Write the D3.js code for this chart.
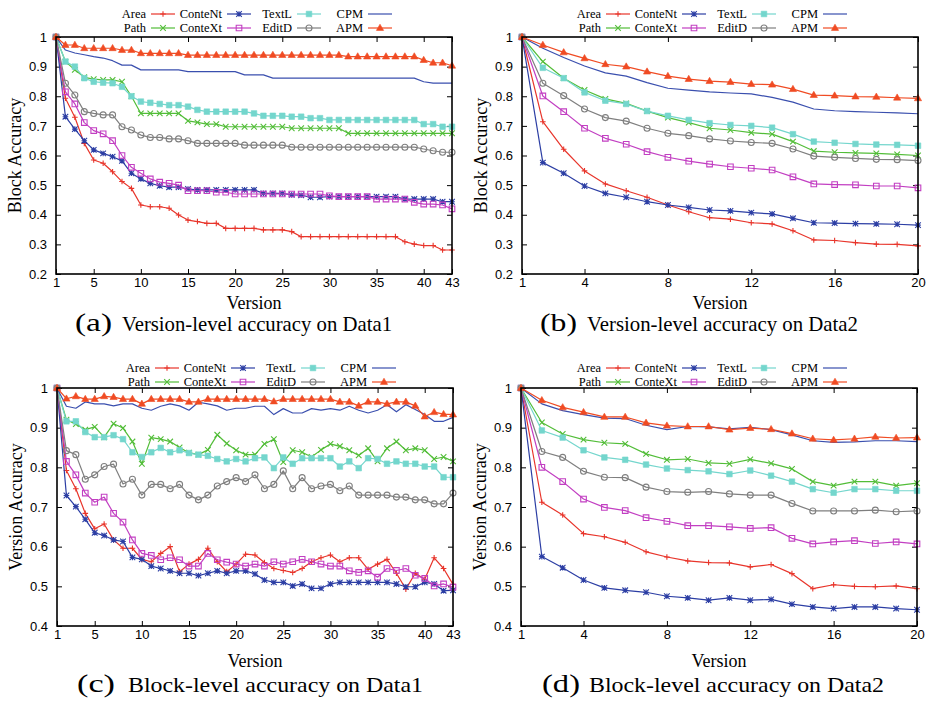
<!DOCTYPE html>
<html>
<head>
<meta charset="utf-8">
<style>
  body { margin: 0; background: #fff; }
  svg { display: block; }
</style>
</head>
<body>
<script src="https://cdn.jsdelivr.net/npm/d3@7"></script>
<script>
// ---- data (one value per version) ----
var seriesNames = ["Area", "Path", "ConteNt", "ConteXt", "TextL", "EditD", "CPM", "APM"];

// (a) version-level accuracy, Data1 (43 versions)
var aArea = [1, 0.793, 0.729, 0.641, 0.585, 0.574, 0.545, 0.512, 0.489, 0.433, 0.427, 0.427, 0.422, 0.399, 0.382, 0.377, 0.371, 0.371, 0.354, 0.354, 0.354, 0.354, 0.349, 0.349, 0.349, 0.343, 0.326, 0.326, 0.326, 0.326, 0.326, 0.326, 0.326, 0.326, 0.326, 0.326, 0.326, 0.309, 0.301, 0.296, 0.296, 0.281, 0.281];
var aPath = [1, 0.917, 0.889, 0.864, 0.858, 0.855, 0.855, 0.849, 0.8, 0.742, 0.742, 0.742, 0.742, 0.742, 0.717, 0.712, 0.706, 0.706, 0.697, 0.697, 0.697, 0.697, 0.697, 0.697, 0.697, 0.692, 0.692, 0.692, 0.692, 0.692, 0.692, 0.675, 0.675, 0.675, 0.675, 0.675, 0.675, 0.675, 0.675, 0.675, 0.675, 0.675, 0.675];
var aConteNt = [1, 0.731, 0.689, 0.65, 0.619, 0.607, 0.596, 0.582, 0.54, 0.521, 0.506, 0.498, 0.493, 0.493, 0.487, 0.484, 0.484, 0.484, 0.484, 0.484, 0.484, 0.484, 0.472, 0.472, 0.472, 0.467, 0.466, 0.459, 0.459, 0.461, 0.461, 0.461, 0.461, 0.461, 0.461, 0.461, 0.461, 0.453, 0.453, 0.453, 0.453, 0.444, 0.444];
var aConteXt = [1, 0.815, 0.774, 0.711, 0.684, 0.673, 0.65, 0.6, 0.56, 0.54, 0.521, 0.51, 0.506, 0.5, 0.481, 0.481, 0.481, 0.476, 0.476, 0.47, 0.47, 0.47, 0.47, 0.47, 0.47, 0.47, 0.47, 0.47, 0.47, 0.464, 0.461, 0.461, 0.461, 0.461, 0.453, 0.453, 0.453, 0.453, 0.442, 0.436, 0.436, 0.433, 0.42];
var aTextL = [1, 0.917, 0.9, 0.861, 0.849, 0.846, 0.844, 0.832, 0.8, 0.782, 0.778, 0.774, 0.77, 0.77, 0.765, 0.754, 0.748, 0.748, 0.748, 0.748, 0.748, 0.742, 0.734, 0.734, 0.734, 0.731, 0.731, 0.726, 0.726, 0.72, 0.72, 0.72, 0.72, 0.72, 0.72, 0.72, 0.72, 0.72, 0.72, 0.706, 0.706, 0.697, 0.697];
var aEditD = [1, 0.844, 0.804, 0.748, 0.742, 0.737, 0.737, 0.697, 0.686, 0.669, 0.661, 0.661, 0.656, 0.656, 0.65, 0.641, 0.641, 0.641, 0.641, 0.641, 0.635, 0.635, 0.635, 0.635, 0.635, 0.628, 0.628, 0.628, 0.628, 0.628, 0.628, 0.628, 0.628, 0.628, 0.628, 0.628, 0.628, 0.628, 0.628, 0.622, 0.616, 0.611, 0.611];
var aCPM = [1, 0.956, 0.946, 0.94, 0.934, 0.929, 0.92, 0.905, 0.905, 0.889, 0.889, 0.889, 0.889, 0.889, 0.883, 0.883, 0.883, 0.883, 0.883, 0.883, 0.872, 0.872, 0.872, 0.861, 0.861, 0.861, 0.861, 0.861, 0.861, 0.861, 0.861, 0.861, 0.861, 0.861, 0.861, 0.861, 0.861, 0.861, 0.861, 0.849, 0.844, 0.844, 0.844];
var aAPM = [1, 0.973, 0.973, 0.962, 0.962, 0.962, 0.962, 0.956, 0.956, 0.945, 0.945, 0.945, 0.945, 0.945, 0.939, 0.939, 0.939, 0.939, 0.939, 0.939, 0.939, 0.939, 0.939, 0.939, 0.939, 0.939, 0.939, 0.939, 0.939, 0.939, 0.939, 0.934, 0.934, 0.934, 0.934, 0.934, 0.934, 0.934, 0.934, 0.922, 0.913, 0.913, 0.903];

// (b) version-level accuracy, Data2 (20 versions)
var bArea = [1, 0.714, 0.621, 0.548, 0.504, 0.481, 0.459, 0.433, 0.41, 0.39, 0.385, 0.373, 0.369, 0.346, 0.315, 0.313, 0.306, 0.301, 0.3, 0.295];
var bPath = [1, 0.917, 0.861, 0.821, 0.791, 0.776, 0.75, 0.728, 0.711, 0.692, 0.686, 0.677, 0.672, 0.647, 0.615, 0.611, 0.609, 0.607, 0.604, 0.6];
var bConteNt = [1, 0.576, 0.54, 0.497, 0.472, 0.459, 0.444, 0.433, 0.425, 0.416, 0.413, 0.407, 0.403, 0.388, 0.373, 0.372, 0.37, 0.369, 0.368, 0.365];
var bConteXt = [1, 0.801, 0.748, 0.692, 0.658, 0.638, 0.613, 0.594, 0.581, 0.571, 0.562, 0.557, 0.551, 0.528, 0.504, 0.502, 0.501, 0.497, 0.497, 0.491];
var bTextL = [1, 0.896, 0.861, 0.813, 0.785, 0.774, 0.75, 0.734, 0.72, 0.709, 0.703, 0.7, 0.694, 0.672, 0.647, 0.643, 0.639, 0.637, 0.636, 0.633];
var bEditD = [1, 0.844, 0.802, 0.757, 0.728, 0.716, 0.692, 0.675, 0.667, 0.656, 0.649, 0.644, 0.641, 0.622, 0.598, 0.594, 0.59, 0.587, 0.586, 0.583];
var bCPM = [1, 0.962, 0.931, 0.902, 0.879, 0.868, 0.846, 0.827, 0.821, 0.815, 0.811, 0.808, 0.796, 0.78, 0.757, 0.751, 0.748, 0.746, 0.744, 0.741];
var bAPM = [1, 0.973, 0.948, 0.928, 0.908, 0.9, 0.883, 0.868, 0.858, 0.851, 0.848, 0.841, 0.839, 0.824, 0.804, 0.802, 0.799, 0.798, 0.795, 0.793];

// (c) block-level accuracy, Data1 (43 versions)
var cArea = [1, 0.792, 0.746, 0.684, 0.645, 0.657, 0.617, 0.596, 0.596, 0.568, 0.562, 0.583, 0.6, 0.537, 0.556, 0.568, 0.596, 0.562, 0.537, 0.556, 0.581, 0.579, 0.56, 0.545, 0.54, 0.535, 0.545, 0.562, 0.572, 0.579, 0.562, 0.572, 0.572, 0.543, 0.556, 0.568, 0.533, 0.493, 0.533, 0.518, 0.572, 0.545, 0.505];
var cPath = [1, 0.92, 0.909, 0.895, 0.902, 0.876, 0.91, 0.899, 0.865, 0.809, 0.875, 0.871, 0.865, 0.85, 0.837, 0.832, 0.844, 0.882, 0.86, 0.843, 0.832, 0.832, 0.859, 0.871, 0.813, 0.843, 0.838, 0.826, 0.844, 0.859, 0.853, 0.843, 0.83, 0.848, 0.815, 0.848, 0.865, 0.843, 0.848, 0.843, 0.821, 0.826, 0.815];
var cConteNt = [1, 0.729, 0.701, 0.669, 0.635, 0.628, 0.617, 0.613, 0.573, 0.568, 0.551, 0.545, 0.539, 0.533, 0.533, 0.527, 0.533, 0.539, 0.533, 0.539, 0.539, 0.531, 0.516, 0.51, 0.51, 0.501, 0.506, 0.495, 0.495, 0.506, 0.51, 0.51, 0.51, 0.51, 0.51, 0.51, 0.506, 0.499, 0.499, 0.51, 0.506, 0.489, 0.49];
var cConteXt = [1, 0.815, 0.781, 0.735, 0.712, 0.725, 0.684, 0.662, 0.617, 0.583, 0.578, 0.567, 0.572, 0.567, 0.551, 0.551, 0.583, 0.567, 0.561, 0.556, 0.551, 0.556, 0.551, 0.562, 0.556, 0.562, 0.568, 0.562, 0.556, 0.551, 0.551, 0.539, 0.535, 0.539, 0.523, 0.545, 0.54, 0.545, 0.528, 0.52, 0.501, 0.506, 0.498];
var cTextL = [1, 0.916, 0.916, 0.889, 0.876, 0.876, 0.881, 0.871, 0.838, 0.826, 0.838, 0.849, 0.838, 0.843, 0.836, 0.832, 0.829, 0.821, 0.815, 0.821, 0.815, 0.823, 0.825, 0.798, 0.825, 0.809, 0.823, 0.823, 0.823, 0.823, 0.802, 0.815, 0.798, 0.823, 0.821, 0.809, 0.815, 0.809, 0.809, 0.802, 0.802, 0.775, 0.775];
var cEditD = [1, 0.842, 0.832, 0.77, 0.781, 0.802, 0.808, 0.758, 0.77, 0.73, 0.757, 0.757, 0.746, 0.757, 0.73, 0.718, 0.73, 0.753, 0.764, 0.774, 0.764, 0.781, 0.746, 0.757, 0.791, 0.746, 0.774, 0.746, 0.753, 0.757, 0.741, 0.753, 0.73, 0.73, 0.73, 0.73, 0.725, 0.725, 0.718, 0.718, 0.708, 0.708, 0.735];
var cCPM = [1, 0.954, 0.949, 0.965, 0.96, 0.96, 0.955, 0.96, 0.96, 0.949, 0.944, 0.954, 0.96, 0.955, 0.944, 0.964, 0.96, 0.955, 0.944, 0.949, 0.949, 0.954, 0.954, 0.933, 0.948, 0.937, 0.937, 0.948, 0.944, 0.948, 0.944, 0.954, 0.944, 0.937, 0.944, 0.958, 0.94, 0.958, 0.946, 0.933, 0.916, 0.916, 0.926];
var cAPM = [1, 0.973, 0.979, 0.972, 0.972, 0.979, 0.977, 0.972, 0.972, 0.96, 0.972, 0.972, 0.972, 0.972, 0.965, 0.965, 0.972, 0.972, 0.972, 0.972, 0.972, 0.972, 0.972, 0.966, 0.972, 0.972, 0.972, 0.972, 0.972, 0.972, 0.965, 0.965, 0.955, 0.965, 0.965, 0.96, 0.965, 0.965, 0.955, 0.928, 0.939, 0.934, 0.933];

// (d) block-level accuracy, Data2 (20 versions)
var dArea = [1, 0.712, 0.68, 0.633, 0.625, 0.611, 0.587, 0.574, 0.564, 0.56, 0.559, 0.549, 0.555, 0.532, 0.494, 0.504, 0.5, 0.499, 0.501, 0.494];
var dPath = [1, 0.913, 0.884, 0.87, 0.862, 0.859, 0.834, 0.819, 0.821, 0.811, 0.809, 0.82, 0.81, 0.796, 0.764, 0.754, 0.764, 0.764, 0.754, 0.76];
var dConteNt = [1, 0.575, 0.547, 0.516, 0.496, 0.49, 0.485, 0.475, 0.471, 0.465, 0.471, 0.465, 0.467, 0.455, 0.448, 0.444, 0.448, 0.448, 0.444, 0.441];
var dConteXt = [1, 0.8, 0.764, 0.72, 0.699, 0.691, 0.673, 0.664, 0.653, 0.653, 0.65, 0.646, 0.648, 0.621, 0.607, 0.612, 0.615, 0.608, 0.612, 0.607];
var dTextL = [1, 0.893, 0.875, 0.843, 0.825, 0.819, 0.807, 0.797, 0.793, 0.79, 0.783, 0.792, 0.779, 0.764, 0.745, 0.736, 0.745, 0.745, 0.741, 0.741];
var dEditD = [1, 0.84, 0.825, 0.79, 0.775, 0.774, 0.75, 0.739, 0.737, 0.739, 0.733, 0.73, 0.73, 0.709, 0.69, 0.69, 0.69, 0.692, 0.688, 0.69];
var dCPM = [1, 0.96, 0.943, 0.933, 0.924, 0.923, 0.906, 0.895, 0.903, 0.902, 0.897, 0.901, 0.895, 0.882, 0.867, 0.863, 0.864, 0.867, 0.867, 0.865];
var dAPM = [1, 0.969, 0.951, 0.939, 0.927, 0.927, 0.912, 0.905, 0.903, 0.903, 0.895, 0.899, 0.896, 0.885, 0.872, 0.869, 0.872, 0.877, 0.874, 0.875];

// tick labels
var xTicks43 = [1, 5, 10, 15, 20, 25, 30, 35, 40, 43];
var xTicks20 = [1, 4, 8, 12, 16, 20];
var yTicksTop = [0.2, 0.3, 0.4, 0.5, 0.6, 0.7, 0.8, 0.9, 1];
var yTicksBottom = [0.4, 0.5, 0.6, 0.7, 0.8, 0.9, 1];

// ---- styles ----
var styles = {
    Area:    { color: '#e8352b', marker: 'plus' },
    Path:    { color: '#52bd38', marker: 'cross' },
    ConteNt: { color: '#2c3ea4', marker: 'star' },
    ConteXt: { color: '#c23fc2', marker: 'square' },
    TextL:   { color: '#74d6cd', marker: 'fsquare' },
    EditD:   { color: '#7f7f7f', marker: 'circle' },
    CPM:     { color: '#3a4fae', marker: null },
    APM:     { color: '#f04b23', marker: 'triangle' }
};
var serif = '"Liberation Serif", "Times New Roman", serif';
var sans = '"Liberation Sans", Arial, sans-serif';

var panels = [
    { left: 56, right: 452, top: 37, bottom: 274, yMin: 0.2, yTicks: yTicksTop, xTicks: xTicks43,
      data: [aArea, aPath, aConteNt, aConteXt, aTextL, aEditD, aCPM, aAPM],
      yTitle: 'Block Accuracy', tag: '(a)', caption: 'Version-level accuracy on Data1',
      legendX: 146, legendY: 14, labelY: 309,
      cap: { y: 331, tagX: 75, tagW: 37, textX: 122, textW: 270, size: 21 } },
    { left: 522, right: 918, top: 37, bottom: 274, yMin: 0.2, yTicks: yTicksTop, xTicks: xTicks20,
      data: [bArea, bPath, bConteNt, bConteXt, bTextL, bEditD, bCPM, bAPM],
      yTitle: 'Block Accuracy', tag: '(b)', caption: 'Version-level accuracy on Data2',
      legendX: 601, legendY: 14, labelY: 309,
      cap: { y: 331, tagX: 540, tagW: 37, textX: 587, textW: 271, size: 21 } },
    { left: 57, right: 453, top: 388, bottom: 626, yMin: 0.4, yTicks: yTicksBottom, xTicks: xTicks43,
      data: [cArea, cPath, cConteNt, cConteXt, cTextL, cEditD, cCPM, cAPM],
      yTitle: 'Version Accuracy', tag: '(c)', caption: 'Block-level accuracy on Data1',
      legendX: 150, legendY: 368, labelY: 667,
      cap: { y: 692, tagX: 77, tagW: 38, textX: 128, textW: 295, size: 22 } },
    { left: 521, right: 917, top: 388, bottom: 626, yMin: 0.4, yTicks: yTicksBottom, xTicks: xTicks20,
      data: [dArea, dPath, dConteNt, dConteXt, dTextL, dEditD, dCPM, dAPM],
      yTitle: 'Version Accuracy', tag: '(d)', caption: 'Block-level accuracy on Data2',
      legendX: 601, legendY: 368, labelY: 667,
      cap: { y: 692, tagX: 542, tagW: 38, textX: 589, textW: 295, size: 22 } }
];

var svg = d3.select('body').append('svg')
    .attr('width', 932)
    .attr('height', 702)
    .style('background', '#fff');

function markerPath(type) {
    var s = 2.8;
    switch (type) {
        case 'plus': return 'M' + (-s) + ',0H' + s + 'M0,' + (-s) + 'V' + s;
        case 'cross': return 'M' + (-s) + ',' + (-s) + 'L' + s + ',' + s + 'M' + (-s) + ',' + s + 'L' + s + ',' + (-s);
        case 'star': return 'M' + (-s) + ',0H' + s + 'M0,' + (-s) + 'V' + s +
            'M' + (-s) + ',' + (-s) + 'L' + s + ',' + s + 'M' + (-s) + ',' + s + 'L' + s + ',' + (-s);
        case 'square':
        case 'fsquare': return 'M-2.8,-2.8H2.8V2.8H-2.8Z';
        case 'circle': return 'M3,0A3,3 0 1,1 -3,0A3,3 0 1,1 3,0Z';
        case 'triangle': return 'M0,-3.8L3.6,2.4H-3.6Z';
    }
    return '';
}
function styleMarker(sel, st) {
    var filled = st.marker === 'fsquare' || st.marker === 'triangle';
    sel.attr('d', markerPath(st.marker))
        .attr('fill', filled ? st.color : 'none')
        .attr('stroke', st.color)
        .attr('stroke-width', filled ? 0.6 : 1.1);
}

panels.forEach(function (p) {
    var n = p.data[0].length;
    var x = d3.scaleLinear().domain([1, n]).range([p.left, p.right]);
    var y = d3.scaleLinear().domain([p.yMin, 1]).range([p.bottom, p.top]);
    var fmt = function (d) { return d === 1 ? '1' : d3.format('.1f')(d); };

    // axes with inward ticks on all four sides
    var gl = svg.append('g').attr('transform', 'translate(' + p.left + ',0)')
        .call(d3.axisLeft(y).tickValues(p.yTicks).tickSize(-5).tickPadding(9).tickFormat(fmt));
    var gr = svg.append('g').attr('transform', 'translate(' + p.right + ',0)')
        .call(d3.axisRight(y).tickValues(p.yTicks).tickSize(-5).tickFormat(''));
    var gb = svg.append('g').attr('transform', 'translate(0,' + p.bottom + ')')
        .call(d3.axisBottom(x).tickValues(p.xTicks).tickSize(-5).tickPadding(4).tickFormat(d3.format('d')));
    var gt = svg.append('g').attr('transform', 'translate(0,' + p.top + ')')
        .call(d3.axisTop(x).tickValues(p.xTicks).tickSize(-5).tickFormat(''));
    [gl, gr, gb, gt].forEach(function (g) {
        g.select('.domain').remove();
        g.selectAll('.tick line').attr('stroke', '#000').attr('stroke-width', 1);
        g.selectAll('.tick text').attr('fill', '#000')
            .style('font-family', sans).style('font-size', '13px');
    });

    // series
    var line = d3.line()
        .x(function (d, i) { return x(i + 1); })
        .y(function (d) { return y(d); });
    seriesNames.forEach(function (name, k) {
        var st = styles[name];
        var vals = p.data[k];
        svg.append('path')
            .datum(vals)
            .attr('d', line)
            .attr('fill', 'none')
            .attr('stroke', st.color)
            .attr('stroke-width', 1.2)
            .attr('stroke-linejoin', 'round');
        if (st.marker) {
            svg.append('g').selectAll('path')
                .data(vals)
                .enter()
                .append('path')
                .attr('transform', function (d, i) { return 'translate(' + x(i + 1) + ',' + y(d) + ')'; })
                .call(styleMarker, st);
        }
    });

    // frame
    svg.append('rect')
        .attr('x', p.left).attr('y', p.top)
        .attr('width', p.right - p.left).attr('height', p.bottom - p.top)
        .attr('fill', 'none').attr('stroke', '#000').attr('stroke-width', 1.6);

    // legend: 4 columns x 2 rows, label then sample
    var colEnds = [0, 76, 146, 217];
    seriesNames.forEach(function (name, k) {
        var st = styles[name];
        var col = Math.floor(k / 2), row = k % 2;
        var lx = p.legendX + colEnds[col];
        var ly = p.legendY + row * 14;
        svg.append('text')
            .attr('x', lx).attr('y', ly + 4.2)
            .attr('text-anchor', 'end')
            .style('font-family', serif).style('font-size', '12.5px')
            .text(name);
        svg.append('line')
            .attr('x1', lx + 5).attr('x2', lx + 29)
            .attr('y1', ly).attr('y2', ly)
            .attr('stroke', st.color).attr('stroke-width', 1.2);
        if (st.marker) {
            svg.append('path')
                .attr('transform', 'translate(' + (lx + 17) + ',' + ly + ')')
                .call(styleMarker, st);
        }
    });

    // axis titles
    svg.append('text')
        .attr('x', (p.left + p.right) / 2).attr('y', p.labelY)
        .attr('text-anchor', 'middle')
        .style('font-family', serif).style('font-size', '18px')
        .text('Version');
    svg.append('text')
        .attr('transform', 'translate(' + (p.left - 35) + ',' + ((p.top + p.bottom) / 2) + ') rotate(-90)')
        .attr('text-anchor', 'middle')
        .style('font-family', serif).style('font-size', '18px')
        .text(p.yTitle);

    // caption
    svg.append('text')
        .attr('x', p.cap.tagX).attr('y', p.cap.y)
        .attr('textLength', p.cap.tagW).attr('lengthAdjust', 'spacingAndGlyphs')
        .style('font-family', serif).style('font-size', (p.cap.size + 4) + 'px')
        .text(p.tag);
    svg.append('text')
        .attr('x', p.cap.textX).attr('y', p.cap.y)
        .attr('textLength', p.cap.textW).attr('lengthAdjust', 'spacingAndGlyphs')
        .style('font-family', serif).style('font-size', p.cap.size + 'px')
        .text(p.caption);
});
</script>
</body>
</html>
